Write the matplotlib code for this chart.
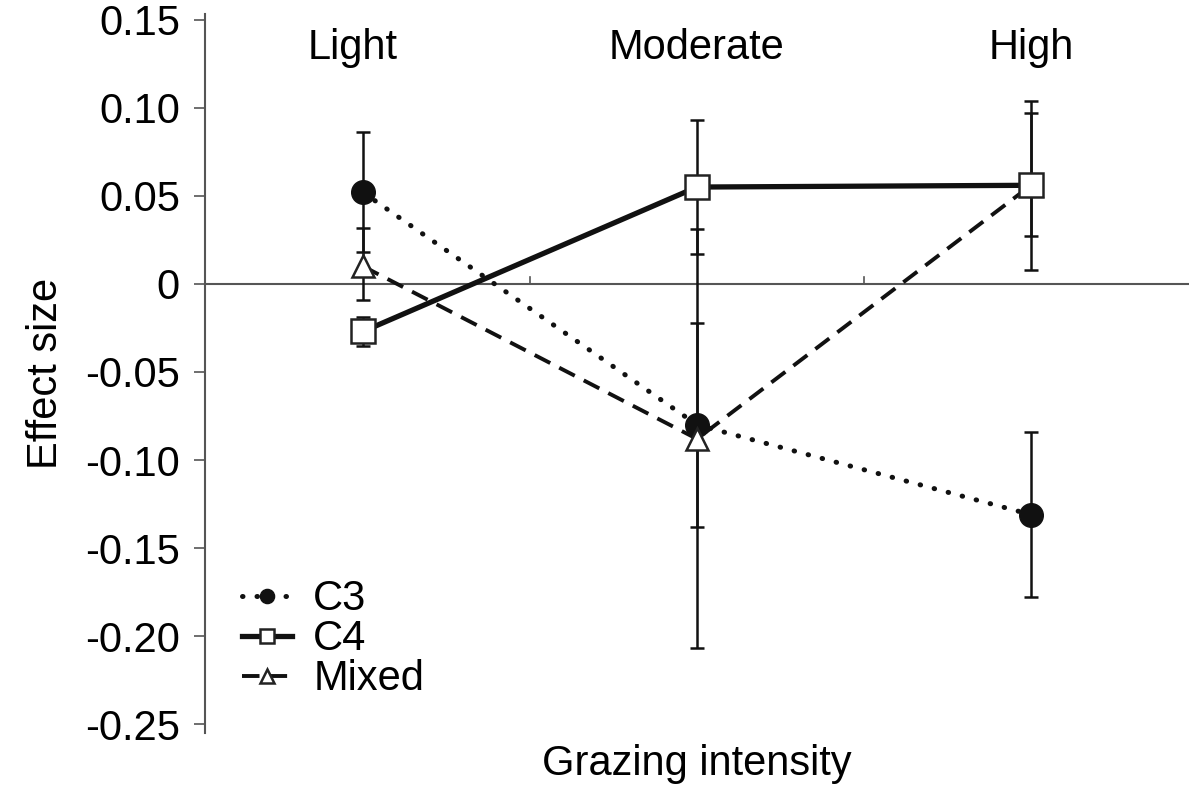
import numpy as np
from matplotlib import pyplot as plt

plt.rcParams['font.family'] = ['Liberation Sans', 'DejaVu Sans']

# grazing intensity levels
levels = ['Light', 'Moderate', 'High']
x = np.arange(len(levels))

# effect sizes and (lower, upper) error for each functional group
c3 = [0.052, -0.080, -0.131]
c3_err = [[0.034, 0.058, 0.047], [0.034, 0.058, 0.047]]

c4 = [-0.027, 0.055, 0.056]
c4_err = [[0.008, 0.038, 0.029], [0.008, 0.038, 0.041]]

mixed = [0.010, -0.088, 0.056]
mixed_err = [[0.019, 0.119, 0.048], [0.022, 0.119, 0.048]]

yticks = [0.15, 0.10, 0.05, 0, -0.05, -0.10, -0.15, -0.20, -0.25]
ytick_labels = ['0.15', '0.10', '0.05', '0', '-0.05', '-0.10', '-0.15', '-0.20', '-0.25']

fig = plt.figure(figsize=(11.89, 7.94), dpi=100)
ax = fig.add_axes([0.1724, 0.0768, 0.8276, 0.905])

ax.axhline(0, color='#555555', lw=1.5, zorder=1)
for xm in [0.5, 1.5]:
    ax.plot([xm, xm], [0, 0.004], color='#555555', lw=1.2, zorder=1)

eb = dict(ecolor='#111111', elinewidth=1.8, capsize=5, capthick=1.8, zorder=3)
ax.errorbar(x, c3, yerr=c3_err, fmt='none', **eb)
ax.errorbar(x, c4, yerr=c4_err, fmt='none', **eb)
ax.errorbar(x, mixed, yerr=mixed_err, fmt='none', **eb)

ax.plot(x, c3, color='#111111', lw=3.6, linestyle=(0, (0.1, 2.8)),
        dash_capstyle='round', marker='o', ms=17, mfc='#111111',
        mec='#111111', label='C3', zorder=4)
ax.plot(x, c4, color='#111111', lw=3.8, linestyle='-', marker='s', ms=17,
        mfc='white', mec='#222222', mew=1.8, label='C4', zorder=5)
ax.plot(x, mixed, color='#111111', lw=2.8, linestyle=(0, (4.5, 2.6)),
        marker='^', ms=16, mfc='white', mec='#222222', mew=1.8,
        label='Mixed', zorder=4)

for xi, name in zip(x, levels):
    ax.text(xi - 0.03 if name == 'Light' else xi, 0.134, name,
            ha='center', va='center', fontsize=30)

ax.set_xlim(-0.473, 2.473)
ax.set_ylim(-0.255, 0.153)
ax.set_yticks(yticks)
ax.set_yticklabels(ytick_labels)
ax.set_xticks([])
ax.tick_params(axis='y', labelsize=30, length=8, width=1.2, pad=10,
               color='#555555')
for side in ['top', 'right', 'bottom']:
    ax.spines[side].set_visible(False)
ax.spines['left'].set_color('#555555')
ax.spines['left'].set_linewidth(1.5)

ax.set_ylabel('Effect size', fontsize=30, labelpad=14)
ax.set_xlabel('Grazing intensity', fontsize=30, labelpad=8)

ax.legend(loc='lower left', bbox_to_anchor=(0.0, -0.005), frameon=False,
          fontsize=30, handlelength=1.2, handletextpad=0.5, labelspacing=0.0,
          markerscale=0.6)

fig.savefig('out.png', dpi=100)
